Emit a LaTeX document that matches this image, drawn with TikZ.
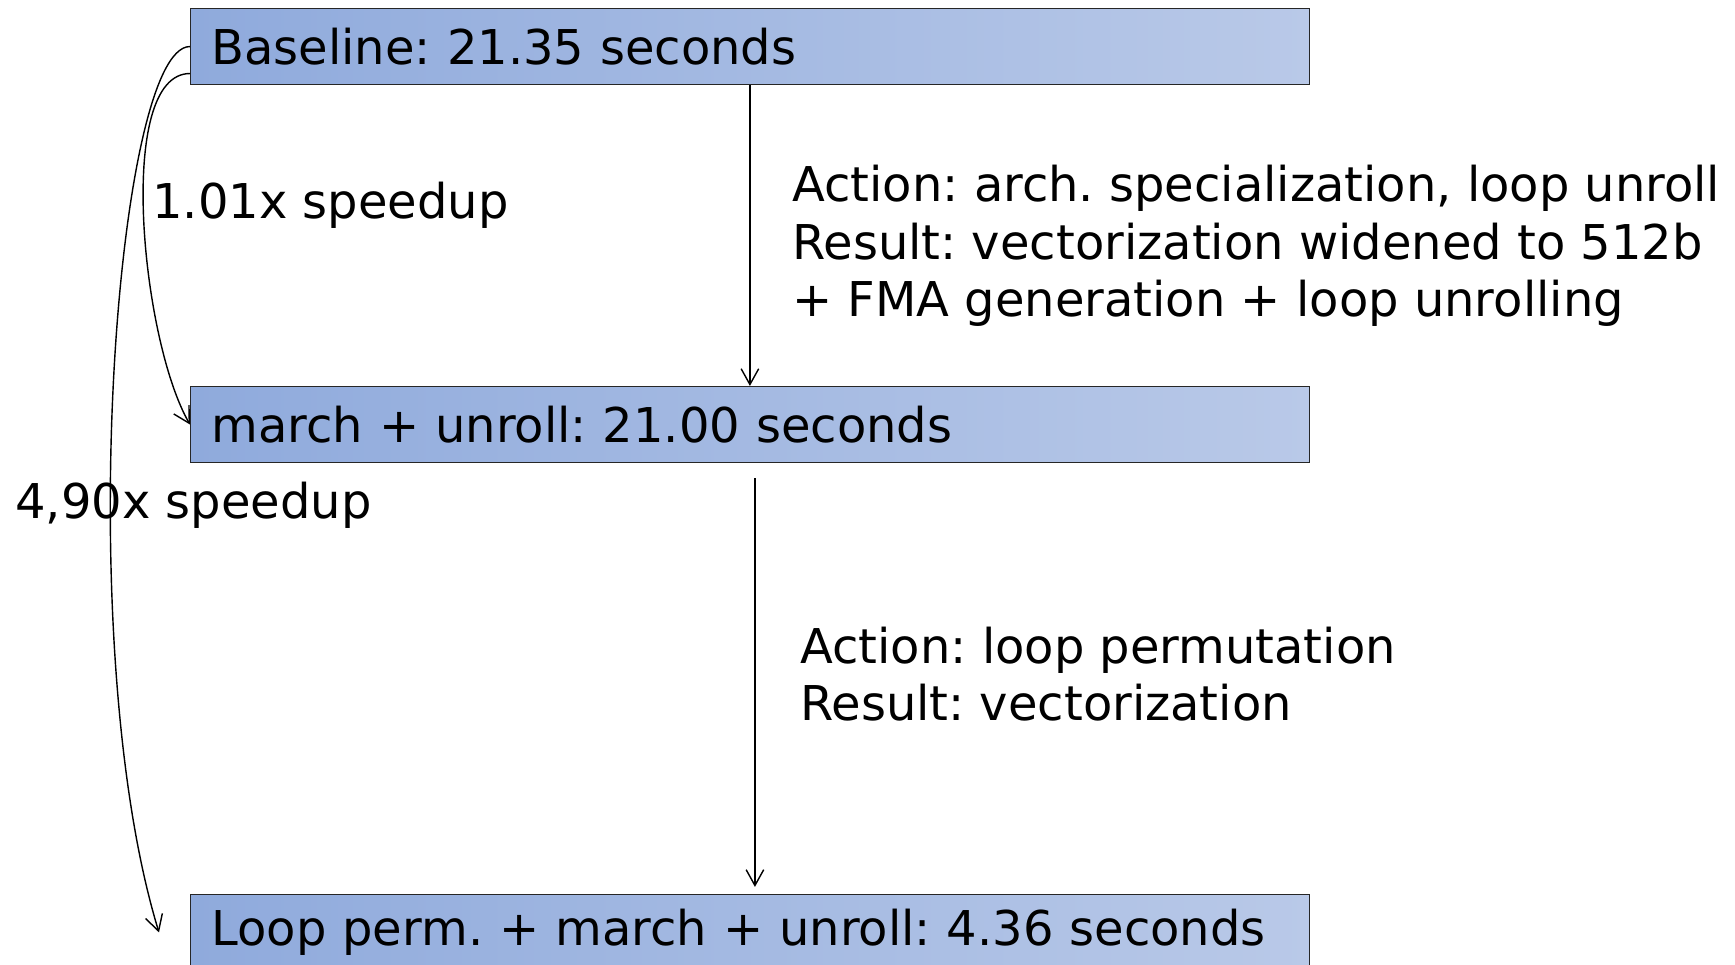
\documentclass[tikz,border=0pt]{standalone}
\usepackage{fontspec}
\setmainfont{DejaVu Sans}
\usetikzlibrary{positioning,arrows.meta}
\definecolor{boxleft}{HTML}{8FAADC}
\definecolor{boxright}{HTML}{B9C9E8}
\newcommand{\bigfont}{\fontsize{27.3}{32.7}\selectfont}
\frenchspacing
\tikzset{
    stage/.style = { rectangle, draw=black!85, line width=0.6pt,
	left color=boxleft, right color=boxright,
	text width=21.54cm, inner xsep=0.42cm, inner ysep=0pt,
	minimum height=1.52cm, align=left, font=\bigfont },
	note/.style  = { align=left, inner sep=0pt, font=\bigfont },
	line/.style  = { draw, line width=0.8pt, -{Straight Barb[length=9pt,width=10pt]} },
}

\begin{document}
\begin{tikzpicture}[x=0.02cm, y=-0.02cm]
				\clip (0,0) rectangle (1735,964);
				% stages
				\node (base) [stage, anchor=north west] at (190,8) {Baseline: 21.35 seconds};
				\node (unroll) [stage, below=6.02cm of base] {march + unroll: 21.00 seconds};
				\node (perm) [stage, below=8.62cm of unroll] {Loop perm. + march + unroll: 4.36 seconds};
				% notes
				\node (act1) [note, anchor=west] at (792,246) {Action: arch. specialization, loop unroll\\ Result: vectorization widened to 512b\\ + FMA generation + loop unrolling};
				\node (act2) [note, anchor=west] at (800,674) {Action: loop permutation\\ Result: vectorization};
				\node (sp1) [note, anchor=base west] at (152,218) {1.01x speedup};
				\node (sp2) [note, anchor=base west] at (15,518) {4,90x speedup};
				\coordinate (permin) at ([xshift=-0.62cm]perm.west);
				% arrows
				\path [line] (base) -- (unroll);
				\path [line] ([xshift=0.1cm,yshift=-0.3cm]unroll.south) -- ([xshift=0.1cm,yshift=0.14cm]perm.north);
				\path [line] ([yshift=-0.54cm]base.west) to[out=180, in=120, out distance=1.5cm, in distance=1.94cm] (unroll.west);
				\path [line] (base.west) to[out=180, in=107, out distance=1.5cm, in distance=6cm] (permin);
\end{tikzpicture}
\end{document}
